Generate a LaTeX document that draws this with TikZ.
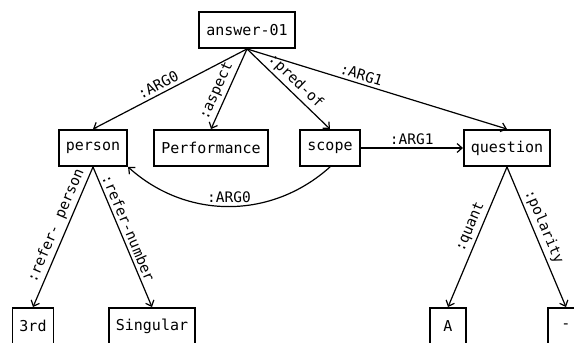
\documentclass[tikz,border=0pt]{standalone}
\usepackage{fontspec}
\setmonofont{DejaVu Sans Mono}
\usetikzlibrary{arrows.meta}
\begin{document}
\begin{tikzpicture}[x=1pt,y=-1pt,
  box/.style={draw,line width=1.9pt,font=\fontsize{15}{18}\selectfont\ttfamily,inner xsep=7pt,minimum height=36pt,minimum width=36pt},
  edge/.style={line width=1.2pt,-{Straight Barb[length=5pt,width=9pt]}},
  lab/.style={font=\fontsize{14.5}{17}\selectfont\ttfamily,above,inner sep=3pt}]
\useasboundingbox (0,0) rectangle (574,343);
\clip (0,0) rectangle (574,343);
\node[box] (ans) at (247,30) {answer-01};
\node[box] (per) at (93,148) {person};
\node[box] (perf) at (211,148) {Performance};
\node[box] (sco) at (330,148) {scope};
\node[box] (que) at (507,148) {question};
\node[box] (third) at (33,326) {3rd};
\node[box] (sing) at (152,326) {Singular};
\node[box] (qa) at (448,326) {A};
\node[box] (neg) at (566,326) {-};
\draw[edge] (ans.south) -- node[lab,sloped,pos=0.55]{:ARG0} (per.north);
\draw[edge] (ans.south) -- node[lab,sloped,pos=0.58]{:aspect} (perf.north);
\draw[edge] (ans.south) -- node[lab,sloped,pos=0.5]{:pred-of} (sco.north);
\draw[edge] (ans.south) -- node[lab,sloped,pos=0.43]{:ARG1} (que.north);
\draw[edge] (sco.east) -- node[lab]{:ARG1} (que.west);
\draw[edge] (sco.south) to[bend left=42] node[lab]{:ARG0} (per.south east);
\draw[edge] (per.south) -- node[lab,sloped,pos=0.45]{:refer- person} (third.north);
\draw[edge] (per.south) -- node[lab,sloped,pos=0.46]{:refer-number} (sing.north);
\draw[edge] (que.south) -- node[lab,sloped,pos=0.46]{:quant} (qa.north);
\draw[edge] (que.south) -- node[lab,sloped,pos=0.46]{:polarity} (neg.north);
\end{tikzpicture}
\end{document}
